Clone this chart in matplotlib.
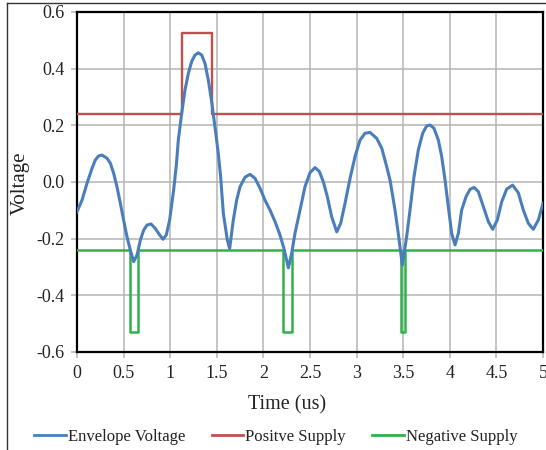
import matplotlib
matplotlib.use("Agg")
import matplotlib.pyplot as plt
from matplotlib.lines import Line2D

# Envelope voltage
env_t = [0.0, 0.054, 0.107, 0.161, 0.197, 0.232, 0.268, 0.322, 0.358, 0.393, 0.429, 0.465,
         0.50, 0.536, 0.572, 0.608, 0.644, 0.68, 0.715, 0.751, 0.794, 0.84, 0.887, 0.923,
         0.958, 0.994, 1.037, 1.066, 1.087, 1.123, 1.159, 1.195, 1.23, 1.266, 1.302, 1.338,
         1.373, 1.409, 1.445, 1.48, 1.516, 1.541, 1.57, 1.613, 1.638, 1.677, 1.713, 1.749,
         1.803, 1.856, 1.91, 1.964, 2.017, 2.071, 2.125, 2.178, 2.22, 2.268, 2.303, 2.339,
         2.393, 2.446, 2.5, 2.554, 2.6, 2.643, 2.686, 2.733, 2.787, 2.829, 2.876, 2.93,
         2.983, 3.037, 3.09, 3.144, 3.216, 3.27, 3.323, 3.36, 3.412, 3.447, 3.49, 3.537,
         3.573, 3.616, 3.662, 3.709, 3.752, 3.787, 3.83, 3.877, 3.913, 3.949, 3.984, 4.02,
         4.056, 4.092, 4.127, 4.174, 4.217, 4.26, 4.306, 4.36, 4.414, 4.46, 4.51, 4.557,
         4.61, 4.674, 4.735, 4.789, 4.843, 4.896, 4.95, 5.0]
env_v = [-0.105, -0.064, -0.005, 0.048, 0.078, 0.092, 0.095, 0.084, 0.066, 0.031, -0.017, -0.075,
         -0.134, -0.193, -0.24, -0.281, -0.258, -0.205, -0.17, -0.152, -0.148, -0.164, -0.187, -0.202,
         -0.187, -0.134, -0.028, 0.06, 0.148, 0.242, 0.325, 0.384, 0.425, 0.448, 0.456, 0.448,
         0.419, 0.36, 0.283, 0.195, 0.101, 0.019, -0.11, -0.205, -0.235, -0.134, -0.064, -0.017,
         0.017, 0.027, 0.013, -0.022, -0.064, -0.099, -0.14, -0.187, -0.234, -0.303, -0.252, -0.181,
         -0.099, -0.017, 0.033, 0.051, 0.037, 0.001, -0.052, -0.123, -0.176, -0.146, -0.075, 0.013,
         0.09, 0.148, 0.172, 0.175, 0.154, 0.119, 0.054, 0.005, -0.099, -0.181, -0.293, -0.193,
         -0.099, 0.019, 0.113, 0.172, 0.198, 0.201, 0.19, 0.148, 0.09, 0.007, -0.087, -0.181,
         -0.222, -0.181, -0.099, -0.052, -0.026, -0.019, -0.034, -0.087, -0.14, -0.167, -0.134, -0.07,
         -0.025, -0.011, -0.038, -0.099, -0.146, -0.167, -0.134, -0.075]

# Positive supply
pos_t = [0.0, 1.13, 1.13, 1.45, 1.45, 5.0]
pos_v = [0.24, 0.24, 0.525, 0.525, 0.24, 0.24]

# Negative supply
neg_t = [0.0, 0.565, 0.565, 0.65, 0.65, 2.215, 2.215, 2.305, 2.305, 3.48, 3.48, 3.52, 3.52, 5.0]
neg_v = [-0.24, -0.24, -0.53, -0.53, -0.24, -0.24, -0.53, -0.53, -0.24, -0.24, -0.53, -0.53, -0.24, -0.24]

x_ticks = [0, 0.5, 1, 1.5, 2, 2.5, 3, 3.5, 4, 4.5, 5]
x_labels = ["0", "0.5", "1", "1.5", "2", "2.5", "3", "3.5", "4", "4.5", "5"]
y_ticks = [-0.6, -0.4, -0.2, 0.0, 0.2, 0.4, 0.6]
y_labels = ["-0.6", "-0.4", "-0.2", "0.0", "0.2", "0.4", "0.6"]

plt.rcParams['font.family'] = ['Liberation Serif', 'DejaVu Serif']

fig = plt.figure(figsize=(5.46, 4.5), dpi=100)
ax = fig.add_axes([77/546, 1-352/450, (543-77)/546, (352-12)/450])

blue = "#4a7ebb"
red = "#c0504d"
green = "#2fb24a"

ax.plot(pos_t, pos_v, color=red, lw=1.7, zorder=3)
ax.plot(neg_t, neg_v, color=green, lw=1.8, zorder=3)
ax.plot(env_t, env_v, color=blue, lw=2.2, zorder=4, solid_joinstyle='round')

ax.set_xlim(0, 5)
ax.set_ylim(-0.6, 0.6)
ax.set_xticks(x_ticks)
ax.set_xticklabels(x_labels)
ax.set_yticks(y_ticks)
ax.set_yticklabels(y_labels)
ax.grid(True, color="#b4b4b4", lw=1.1, zorder=0)
ax.set_axisbelow(True)
ax.tick_params(axis='both', direction='out', length=4, width=1.1, color="#b4b4b4",
               labelsize=13, labelcolor="#222222", pad=5)
for s in ax.spines.values():
    s.set_color("black")
    s.set_linewidth(1.6)

fig.text(0.037, 1-183/450, "Voltage", rotation=90, fontsize=15, va='center', ha='center', color="#222222")
fig.text(287/546, 1-405/450, "Time (us)", fontsize=14.5, va='center', ha='center', color="#222222")

handles = [Line2D([], [], color=blue, lw=2.0),
           Line2D([], [], color=red, lw=2.0),
           Line2D([], [], color=green, lw=2.0)]
fig.legend(handles, ["Envelope Voltage", "Positve Supply", "Negative Supply"],
           loc='center', bbox_to_anchor=(0.505, 1-437/450), ncol=3, frameon=False,
           fontsize=12, handlelength=1.9, handletextpad=0.1, columnspacing=1.6,
           borderaxespad=0, borderpad=0, labelcolor="#222222")

# outer frame
fig.add_artist(Line2D([7/546, 7/546], [0, 1-3/450], transform=fig.transFigure, color="#333333", lw=1.0))
fig.add_artist(Line2D([7/546, 1], [1-3/450, 1-3/450], transform=fig.transFigure, color="#333333", lw=1.0))

fig.savefig("out.png", dpi=100)
